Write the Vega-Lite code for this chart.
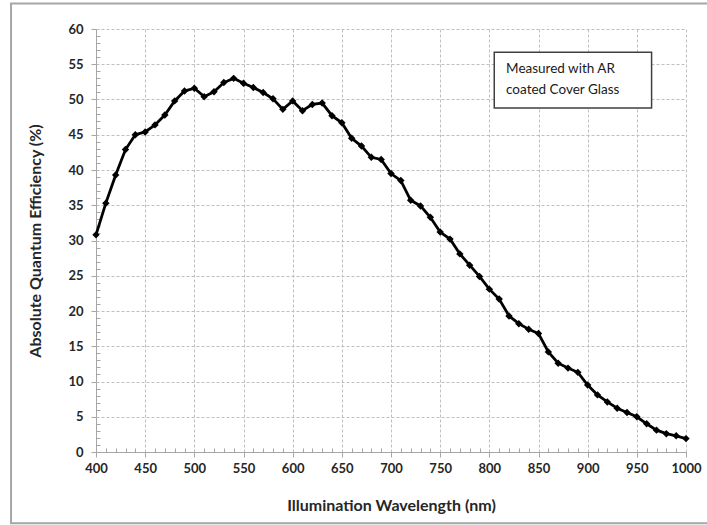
{
  "$schema": "https://vega.github.io/schema/vega-lite/v6.json",
  "width": 590,
  "height": 423,
  "autosize": "none",
  "padding": {"left": 96, "top": 29, "right": 21, "bottom": 73},
  "background": "white",
  "config": {
    "view": {"stroke": null},
    "font": "Lato"
  },
  "datasets": {
    "qe": [
      {"wl": 400, "qe": 30.8}, {"wl": 410, "qe": 35.3}, {"wl": 420, "qe": 39.3}, {"wl": 430, "qe": 42.9},
      {"wl": 440, "qe": 45.0}, {"wl": 450, "qe": 45.4}, {"wl": 460, "qe": 46.4}, {"wl": 470, "qe": 47.8},
      {"wl": 480, "qe": 49.8}, {"wl": 490, "qe": 51.2}, {"wl": 500, "qe": 51.6}, {"wl": 510, "qe": 50.4},
      {"wl": 520, "qe": 51.1}, {"wl": 530, "qe": 52.4}, {"wl": 540, "qe": 53.0}, {"wl": 550, "qe": 52.3},
      {"wl": 560, "qe": 51.7}, {"wl": 570, "qe": 51.0}, {"wl": 580, "qe": 50.1}, {"wl": 590, "qe": 48.6},
      {"wl": 600, "qe": 49.8}, {"wl": 610, "qe": 48.4}, {"wl": 620, "qe": 49.3}, {"wl": 630, "qe": 49.5},
      {"wl": 640, "qe": 47.7}, {"wl": 650, "qe": 46.7}, {"wl": 660, "qe": 44.5}, {"wl": 670, "qe": 43.4},
      {"wl": 680, "qe": 41.8}, {"wl": 690, "qe": 41.5}, {"wl": 700, "qe": 39.5}, {"wl": 710, "qe": 38.5},
      {"wl": 720, "qe": 35.7}, {"wl": 730, "qe": 34.9}, {"wl": 740, "qe": 33.3}, {"wl": 750, "qe": 31.2},
      {"wl": 760, "qe": 30.2}, {"wl": 770, "qe": 28.1}, {"wl": 780, "qe": 26.5}, {"wl": 790, "qe": 24.9},
      {"wl": 800, "qe": 23.1}, {"wl": 810, "qe": 21.7}, {"wl": 820, "qe": 19.3}, {"wl": 830, "qe": 18.2},
      {"wl": 840, "qe": 17.4}, {"wl": 850, "qe": 16.8}, {"wl": 860, "qe": 14.2}, {"wl": 870, "qe": 12.6},
      {"wl": 880, "qe": 11.9}, {"wl": 890, "qe": 11.3}, {"wl": 900, "qe": 9.5}, {"wl": 910, "qe": 8.1},
      {"wl": 920, "qe": 7.1}, {"wl": 930, "qe": 6.2}, {"wl": 940, "qe": 5.6}, {"wl": 950, "qe": 5.0},
      {"wl": 960, "qe": 4.0}, {"wl": 970, "qe": 3.1}, {"wl": 980, "qe": 2.6}, {"wl": 990, "qe": 2.3},
      {"wl": 1000, "qe": 1.9}
    ],
    "note": [
      {"x1": 805, "x2": 965, "y1": 48.8, "y2": 56.7, "tx": 817, "ty": 53.7, "label": "Measured with AR\ncoated Cover Glass"}
    ],
    "frame": [
      {"x1": 313.6, "x2": 1030, "y1": -10.1, "y2": 63.6}
    ]
  },
  "layer": [
    {
      "data": {"name": "frame"},
      "mark": {"type": "rect", "fill": null, "stroke": "#a6a6a6", "strokeWidth": 2},
      "encoding": {
        "x": {"field": "x1", "type": "quantitative", "axis": null},
        "x2": {"field": "x2"},
        "y": {"field": "y1", "type": "quantitative", "axis": null},
        "y2": {"field": "y2"}
      }
    },
    {
      "data": {"name": "qe"},
      "mark": {"type": "line", "color": "black", "strokeWidth": 2.8},
      "encoding": {
        "x": {
          "field": "wl", "type": "quantitative",
          "scale": {"domain": [400, 1000], "nice": false, "zero": false},
          "axis": {
            "orient": "bottom",
            "title": "Illumination Wavelength (nm)",
            "values": [400, 450, 500, 550, 600, 650, 700, 750, 800, 850, 900, 950, 1000],
            "format": "d",
            "grid": true, "gridColor": "#bfbfbf", "gridDash": [3, 2], "gridWidth": 1,
            "domainColor": "#a6a6a6", "domainWidth": 1,
            "tickColor": "#a6a6a6", "tickSize": 5,
            "labelFont": "Lato", "labelFontWeight": "bold", "labelFontSize": 13, "labelColor": "#262626",
            "labelPadding": 5, "labelFlush": false,
            "titleFont": "Lato", "titleFontWeight": "bold", "titleFontSize": 16, "titleColor": "#262626",
            "titlePadding": 22
          }
        },
        "y": {
          "field": "qe", "type": "quantitative",
          "scale": {"domain": [0, 60], "nice": false},
          "axis": {
            "orient": "left",
            "title": "Absolute Quantum Efficiency (%)",
            "values": [0, 5, 10, 15, 20, 25, 30, 35, 40, 45, 50, 55, 60],
            "grid": true, "gridColor": "#bfbfbf", "gridDash": [3, 2], "gridWidth": 1,
            "domainColor": "#a6a6a6", "domainWidth": 1,
            "tickColor": "#a6a6a6", "tickSize": 5,
            "labelFont": "Lato", "labelFontWeight": "bold", "labelFontSize": 13, "labelColor": "#262626",
            "labelPadding": 8,
            "titleFont": "Lato", "titleFontWeight": "bold", "titleFontSize": 16, "titleColor": "#262626",
            "titlePadding": 24
          }
        }
      }
    },
    {
      "data": {"name": "qe"},
      "mark": {"type": "point", "shape": "diamond", "filled": true, "color": "black", "size": 55, "opacity": 1},
      "encoding": {
        "x": {
          "field": "wl", "type": "quantitative",
          "axis": {
            "orient": "bottom", "title": null, "labels": false, "grid": false, "domain": false,
            "values": [410, 420, 430, 440, 460, 470, 480, 490, 510, 520, 530, 540, 560, 570, 580, 590, 610, 620, 630, 640, 660, 670, 680, 690, 710, 720, 730, 740, 760, 770, 780, 790, 810, 820, 830, 840, 860, 870, 880, 890, 910, 920, 930, 940, 960, 970, 980, 990],
            "tickColor": "#a6a6a6", "tickSize": -4
          }
        },
        "y": {
          "field": "qe", "type": "quantitative",
          "axis": {
            "orient": "left", "title": null, "labels": false, "grid": false, "domain": false,
            "values": [1, 2, 3, 4, 6, 7, 8, 9, 11, 12, 13, 14, 16, 17, 18, 19, 21, 22, 23, 24, 26, 27, 28, 29, 31, 32, 33, 34, 36, 37, 38, 39, 41, 42, 43, 44, 46, 47, 48, 49, 51, 52, 53, 54, 56, 57, 58, 59],
            "tickColor": "#a6a6a6", "tickSize": -4
          }
        }
      }
    },
    {
      "data": {"name": "note"},
      "mark": {"type": "rect", "fill": "white", "stroke": "#404040", "strokeWidth": 1.5},
      "encoding": {
        "x": {"field": "x1", "type": "quantitative", "axis": null},
        "x2": {"field": "x2"},
        "y": {"field": "y1", "type": "quantitative", "axis": null},
        "y2": {"field": "y2"}
      }
    },
    {
      "data": {"name": "note"},
      "mark": {"type": "text", "align": "left", "baseline": "alphabetic", "lineBreak": "\n", "lineHeight": 21, "font": "Lato", "fontSize": 13.5, "color": "#1a1a1a"},
      "encoding": {
        "x": {"field": "tx", "type": "quantitative", "axis": null},
        "y": {"field": "ty", "type": "quantitative", "axis": null},
        "text": {"field": "label"}
      }
    }
  ],
  "resolve": {"axis": {"x": "independent", "y": "independent"}}
}
